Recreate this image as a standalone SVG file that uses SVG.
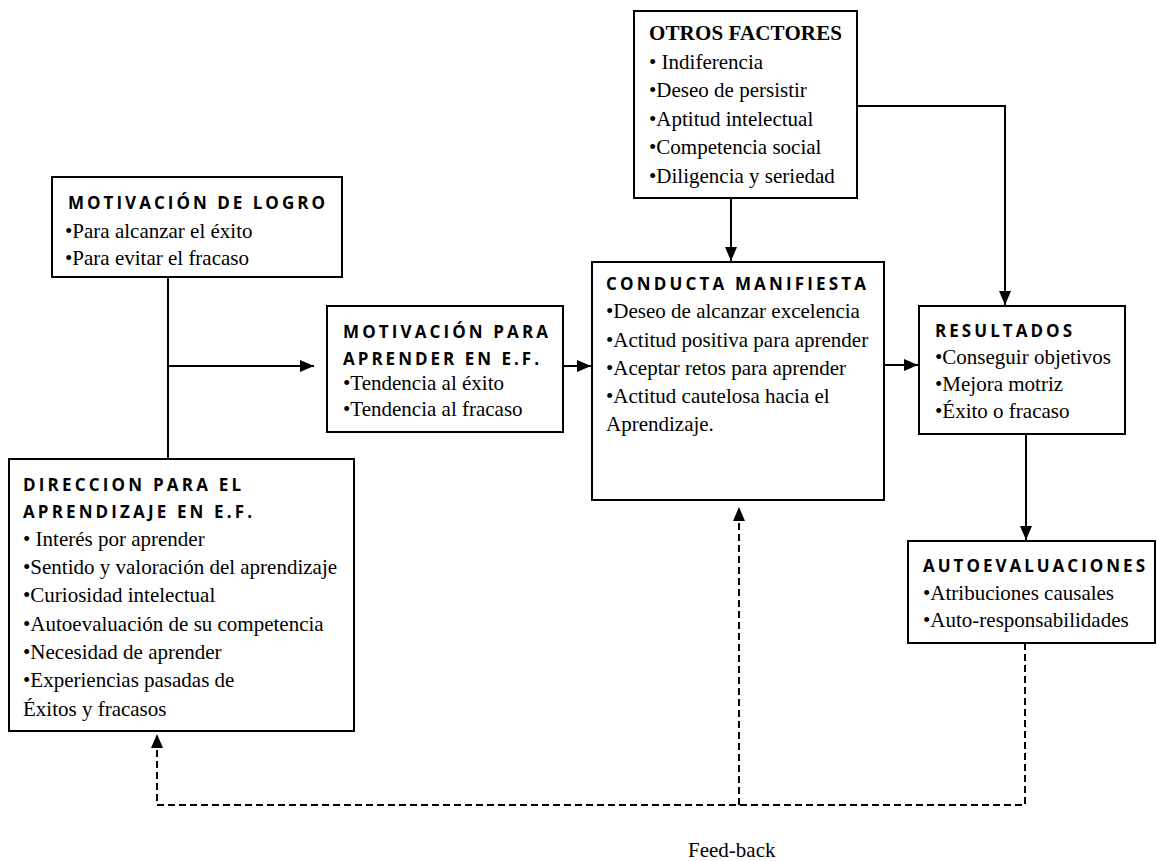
<svg xmlns="http://www.w3.org/2000/svg" width="1157" height="861" viewBox="0 0 1157 861">
<defs>
<style>
.box{fill:#fff;stroke:#000;stroke-width:2}
.t{font-family:"Liberation Serif","Times New Roman",serif;font-size:21px;fill:#000}
.tb{font-family:"Liberation Serif","Times New Roman",serif;font-size:21px;font-weight:700;fill:#000}
.h{font-family:"Open Sans","Liberation Sans",sans-serif;font-size:17px;font-weight:700;fill:#000}
.ln{fill:none;stroke:#000;stroke-width:2}
.dl{fill:none;stroke:#000;stroke-width:2;stroke-dasharray:7,4}
</style>
<marker id="ah" viewBox="0 0 14 12" refX="14" refY="6" markerWidth="14" markerHeight="12" markerUnits="userSpaceOnUse" orient="auto">
<path d="M0,0 L14,6 L0,12 Z" fill="#000"/>
</marker>
</defs>
<rect width="1157" height="861" fill="#fff"/>
<g id="connectors">
<path class="ln" d="M168,277 V459"/>
<path class="ln" d="M168,366 H314" marker-end="url(#ah)"/>
<path class="ln" d="M563,366 H591" marker-end="url(#ah)"/>
<path class="ln" d="M731,198 V261" marker-end="url(#ah)"/>
<path class="ln" d="M857,106 H1005 V305" marker-end="url(#ah)"/>
<path class="ln" d="M884,365 H918" marker-end="url(#ah)"/>
<path class="ln" d="M1026,434 V540" marker-end="url(#ah)"/>
<path class="dl" d="M1025,643 V805 H157 V750"/>
<path class="dl" d="M739,805 V522"/>
<path d="M157,734 L151,748 L163,748 Z" fill="#000"/>
<path d="M739,507 L733,521 L745,521 Z" fill="#000"/>
</g>
<g id="otros">
<rect class="box" x="634" y="11" width="223" height="187"/>
<text class="tb" x="649" y="40" textLength="193">OTROS FACTORES</text>
<text class="t" x="649" y="69">• Indiferencia</text>
<text class="t" x="649" y="97">•Deseo de persistir</text>
<text class="t" x="649" y="126">•Aptitud intelectual</text>
<text class="t" x="649" y="154">•Competencia social</text>
<text class="t" x="649" y="183">•Diligencia y seriedad</text>
</g>
<g id="logro">
<rect class="box" x="52" y="177" width="290" height="100"/>
<text class="h" x="68" y="209" textLength="257" lengthAdjust="spacing">MOTIVACIÓN DE LOGRO</text>
<text class="t" x="65" y="238">•Para alcanzar el éxito</text>
<text class="t" x="65" y="265">•Para evitar el fracaso</text>
</g>
<g id="motivacion">
<rect class="box" x="327" y="306" width="236" height="126"/>
<text class="h" x="343" y="338" textLength="205" lengthAdjust="spacing">MOTIVACIÓN PARA</text>
<text class="h" x="343" y="365" textLength="196" lengthAdjust="spacing">APRENDER EN E.F.</text>
<text class="t" x="343" y="390">•Tendencia al éxito</text>
<text class="t" x="343" y="416">•Tendencia al fracaso</text>
</g>
<g id="conducta">
<rect class="box" x="592" y="262" width="292" height="238"/>
<text class="h" x="606" y="290" textLength="260" lengthAdjust="spacing">CONDUCTA MANIFIESTA</text>
<text class="t" x="606" y="318">•Deseo de alcanzar excelencia</text>
<text class="t" x="606" y="347">•Actitud positiva para aprender</text>
<text class="t" x="606" y="375">•Aceptar retos para aprender</text>
<text class="t" x="606" y="403">•Actitud cautelosa hacia el</text>
<text class="t" x="606" y="431">Aprendizaje.</text>
</g>
<g id="resultados">
<rect class="box" x="919" y="306" width="206" height="128"/>
<text class="h" x="935" y="337" textLength="137" lengthAdjust="spacing">RESULTADOS</text>
<text class="t" x="935" y="364">•Conseguir objetivos</text>
<text class="t" x="935" y="391">•Mejora motriz</text>
<text class="t" x="935" y="418">•Éxito o fracaso</text>
</g>
<g id="autoevaluaciones">
<rect class="box" x="908" y="541" width="247" height="102"/>
<text class="h" x="923" y="572" textLength="222" lengthAdjust="spacing">AUTOEVALUACIONES</text>
<text class="t" x="923" y="600">•Atribuciones causales</text>
<text class="t" x="923" y="627">•Auto-responsabilidades</text>
</g>
<g id="direccion">
<rect class="box" x="9" y="459" width="345" height="272"/>
<text class="h" x="23" y="491" textLength="218" lengthAdjust="spacing">DIRECCION PARA EL</text>
<text class="h" x="23" y="518" textLength="229" lengthAdjust="spacing">APRENDIZAJE EN E.F.</text>
<text class="t" x="23" y="546">• Interés por aprender</text>
<text class="t" x="23" y="574">•Sentido y valoración del aprendizaje</text>
<text class="t" x="23" y="602">•Curiosidad intelectual</text>
<text class="t" x="23" y="631">•Autoevaluación de su competencia</text>
<text class="t" x="23" y="659">•Necesidad de aprender</text>
<text class="t" x="23" y="687">•Experiencias pasadas de</text>
<text class="t" x="23" y="716">Éxitos y fracasos</text>
</g>
<g id="feedback">
<text class="t" x="688" y="857">Feed-back</text>
</g>
</svg>
